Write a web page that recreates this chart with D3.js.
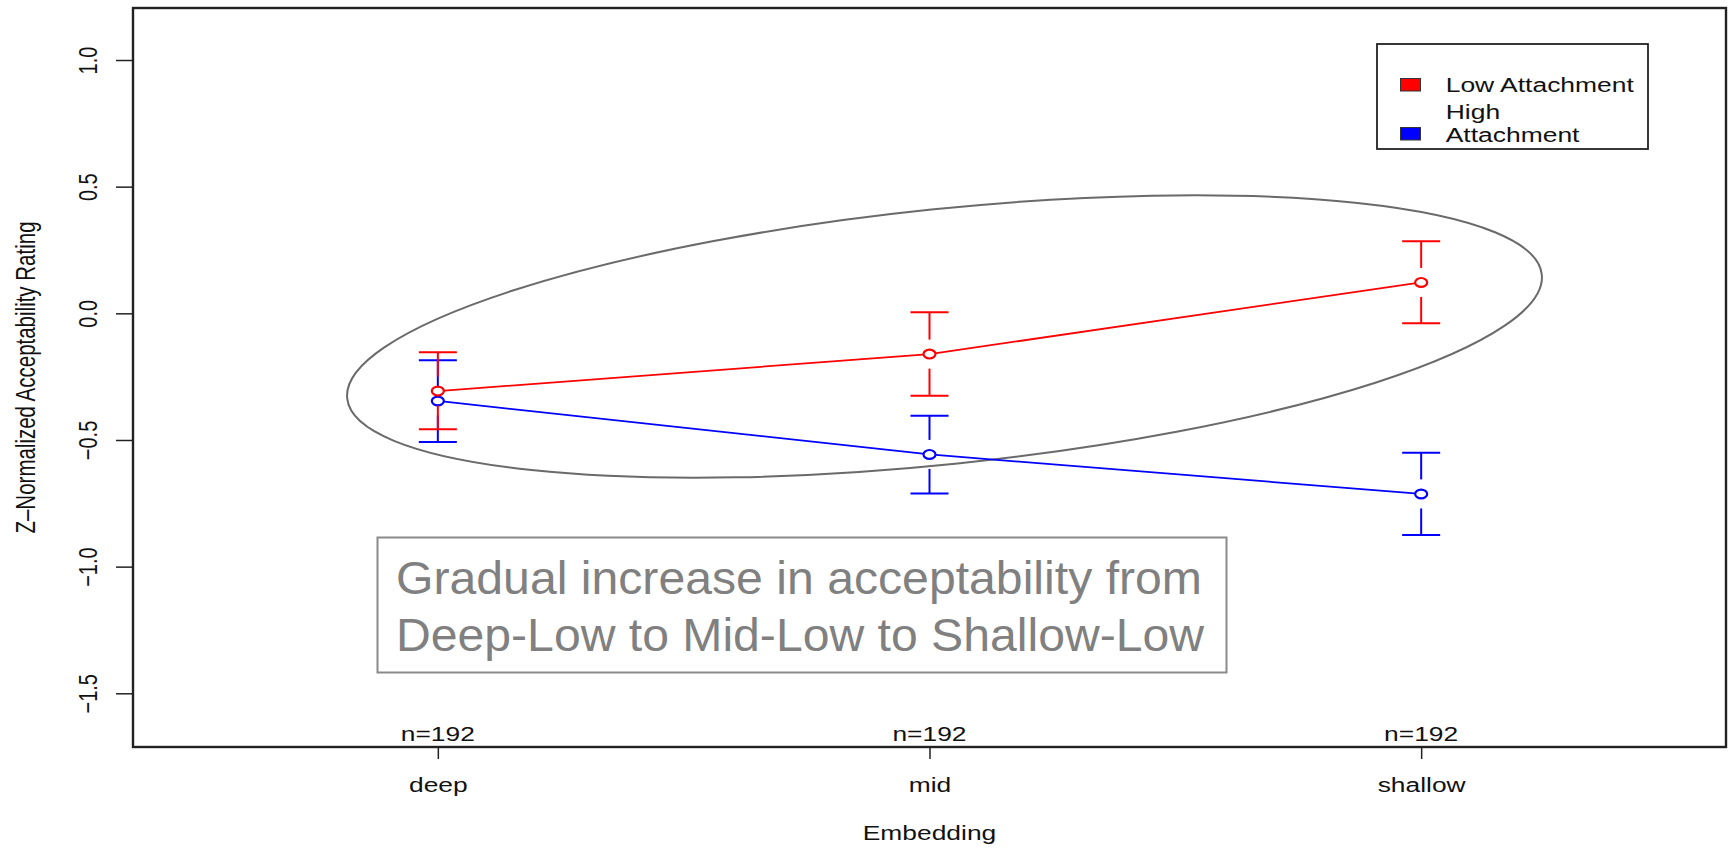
<!DOCTYPE html>
<html>
<head>
<meta charset="utf-8">
<script src="https://cdn.jsdelivr.net/npm/d3@7"></script>
<style>
  html, body { margin: 0; padding: 0; background: #ffffff; }
  svg { display: block; font-family: "Liberation Sans", Arial, Helvetica, sans-serif; }
</style>
</head>
<body>
<svg id="chart" width="1730" height="848"></svg>
<script>
// ---------------- data ----------------
const categories = ["deep", "mid", "shallow"];
const nLabels = ["n=192", "n=192", "n=192"];
const lowMean  = [-0.307, -0.161, 0.122];
const lowLower = [-0.458, -0.325, -0.039];
const lowUpper = [-0.154, 0.004, 0.285];
const highMean  = [-0.346, -0.557, -0.713];
const highLower = [-0.508, -0.711, -0.875];
const highUpper = [-0.185, -0.404, -0.550];
const yTicks = [-1.5, -1.0, -0.5, 0.0, 0.5, 1.0];
const yTickLabels = ["\u22121.5", "\u22121.0", "\u22120.5", "0.0", "0.5", "1.0"];
const seriesNames = ["Low Attachment", "High Attachment"];
const seriesColors = ["#ff0000", "#0000ff"];
const xTitle = "Embedding";
const yTitle = "Z\u2013Normalized Acceptability Rating";
const noteLines = ["Gradual increase in acceptability from", "Deep-Low to Mid-Low to Shallow-Low"];
// ellipse annotation (centre in data units)
const ellipseCenter = [1.0305, -0.0916];

// ---------------- layout ----------------
const svg = d3.select("#chart");
const box = { left: 133, right: 1726, top: 8, bottom: 747 };
const SX = 1.32; // horizontal stretch of the original R text

const x = d3.scaleLinear().domain([-0.62, 2.62]).range([box.left, box.right]);
const y = d3.scaleLinear().domain([-1.712, 1.2053]).range([box.bottom, box.top]);

svg.append("rect").attr("width", 1730).attr("height", 848).attr("fill", "#fff");

// ---------------- ellipse annotation ----------------
svg.append("ellipse")
  .attr("cx", 0).attr("cy", 0).attr("rx", 600.5).attr("ry", 127.6)
  .attr("transform", `translate(${x(ellipseCenter[0])},${y(ellipseCenter[1])}) rotate(-5.92)`)
  .attr("fill", "none").attr("stroke", "#6a6a6a").attr("stroke-width", 2);

// ---------------- series ----------------
const series = [
  { name: seriesNames[1], color: seriesColors[1], mean: highMean, lo: highLower, hi: highUpper },
  { name: seriesNames[0], color: seriesColors[0], mean: lowMean, lo: lowLower, hi: lowUpper }
];
const gap = 14.5, capHalf = 19;
series.forEach(s => {
  const g = svg.append("g");
  const pts = categories.map((c, i) => [x(i), y(s.mean[i])]);
  g.append("path").attr("d", d3.line()(pts))
    .attr("fill", "none").attr("stroke", s.color).attr("stroke-width", 1.8);
  categories.forEach((c, i) => {
    const cx = x(i), cy = y(s.mean[i]), yt = y(s.hi[i]), yb = y(s.lo[i]);
    g.append("line").attr("x1", cx).attr("x2", cx).attr("y1", yt).attr("y2", cy - gap)
      .attr("stroke", s.color).attr("stroke-width", 2);
    g.append("line").attr("x1", cx).attr("x2", cx).attr("y1", cy + gap).attr("y2", yb)
      .attr("stroke", s.color).attr("stroke-width", 2);
    g.append("line").attr("x1", cx - capHalf).attr("x2", cx + capHalf).attr("y1", yt).attr("y2", yt)
      .attr("stroke", s.color).attr("stroke-width", 2);
    g.append("line").attr("x1", cx - capHalf).attr("x2", cx + capHalf).attr("y1", yb).attr("y2", yb)
      .attr("stroke", s.color).attr("stroke-width", 2);
    g.append("ellipse").attr("cx", cx).attr("cy", cy).attr("rx", 6).attr("ry", 4.4)
      .attr("fill", "#fff").attr("stroke", s.color).attr("stroke-width", 2.2);
  });
});

// ---------------- box ----------------
svg.append("rect")
  .attr("x", box.left).attr("y", box.top)
  .attr("width", box.right - box.left).attr("height", box.bottom - box.top)
  .attr("fill", "none").attr("stroke", "#222").attr("stroke-width", 2.4);

// ---------------- axes ----------------
const yAxis = svg.append("g").attr("transform", `translate(${box.left},0)`)
  .call(d3.axisLeft(y).tickValues(yTicks).tickSize(17).tickFormat((d, i) => yTickLabels[i]));
yAxis.select(".domain").remove();
yAxis.selectAll(".tick line").attr("stroke", "#222").attr("stroke-width", 1.5);
yAxis.selectAll(".tick text")
  .attr("x", null).attr("dy", null).attr("y", null)
  .attr("text-anchor", "middle")
  .attr("font-size", 20).attr("fill", "#111")
  .attr("transform", `translate(${97 - box.left},0) scale(${SX},1) rotate(-90)`);

const xAxis = svg.append("g").attr("transform", `translate(0,${box.bottom})`)
  .call(d3.axisBottom(x).tickValues([0, 1, 2]).tickSize(12).tickFormat(i => categories[i]));
xAxis.select(".domain").remove();
xAxis.selectAll(".tick line").attr("stroke", "#222").attr("stroke-width", 1.5);
xAxis.selectAll(".tick text")
  .attr("y", null).attr("dy", null)
  .attr("text-anchor", "middle").attr("font-size", 20).attr("fill", "#111")
  .attr("transform", `translate(0,44.7) scale(${SX},1)`);

// n labels
svg.append("g").selectAll("text").data(nLabels).join("text")
  .attr("transform", (d, i) => `translate(${x(i)},741) scale(${SX},1)`)
  .attr("text-anchor", "middle").attr("font-size", 20).attr("fill", "#111")
  .text(d => d);

// axis titles
svg.append("text")
  .attr("transform", `translate(${x(1)},840) scale(${SX},1)`)
  .attr("text-anchor", "middle").attr("font-size", 20).attr("fill", "#111")
  .text(xTitle);
svg.append("text")
  .attr("transform", `translate(35,377.5) scale(${SX},1) rotate(-90)`)
  .attr("text-anchor", "middle").attr("font-size", 20.5).attr("fill", "#111")
  .text(yTitle);

// ---------------- legend ----------------
const lg = svg.append("g");
lg.append("rect").attr("x", 1377).attr("y", 44).attr("width", 271).attr("height", 105)
  .attr("fill", "#fff").attr("stroke", "#222").attr("stroke-width", 1.8);
const legendRows = [
  { color: seriesColors[0], sq: 78.5, lines: [seriesNames[0]], base: [92.3] },
  { color: seriesColors[1], sq: 127.5, lines: ["High", "Attachment"], base: [119.3, 141.7] }
];
legendRows.forEach(r => {
  lg.append("rect").attr("x", 1400.5).attr("y", r.sq).attr("width", 20).attr("height", 12.5)
    .attr("fill", r.color).attr("stroke", "#333").attr("stroke-width", 1);
  r.lines.forEach((t, k) => {
    lg.append("text")
      .attr("transform", `translate(1445.7,${r.base[k]}) scale(1.26,1)`)
      .attr("font-size", 21).attr("fill", "#111").text(t);
  });
});

// ---------------- note box ----------------
const ng = svg.append("g");
ng.append("rect").attr("x", 377.5).attr("y", 537.5).attr("width", 849).attr("height", 135)
  .attr("fill", "#fff").attr("stroke", "#8a8a8a").attr("stroke-width", 2);
const noteBase = [594, 651];
noteLines.forEach((t, k) => {
  ng.append("text").attr("x", 396).attr("y", noteBase[k])
    .attr("font-size", 46).attr("fill", "#808080")
    .attr("textLength", k === 0 ? 806 : 808).attr("lengthAdjust", "spacingAndGlyphs")
    .text(t);
});
</script>
</body>
</html>
